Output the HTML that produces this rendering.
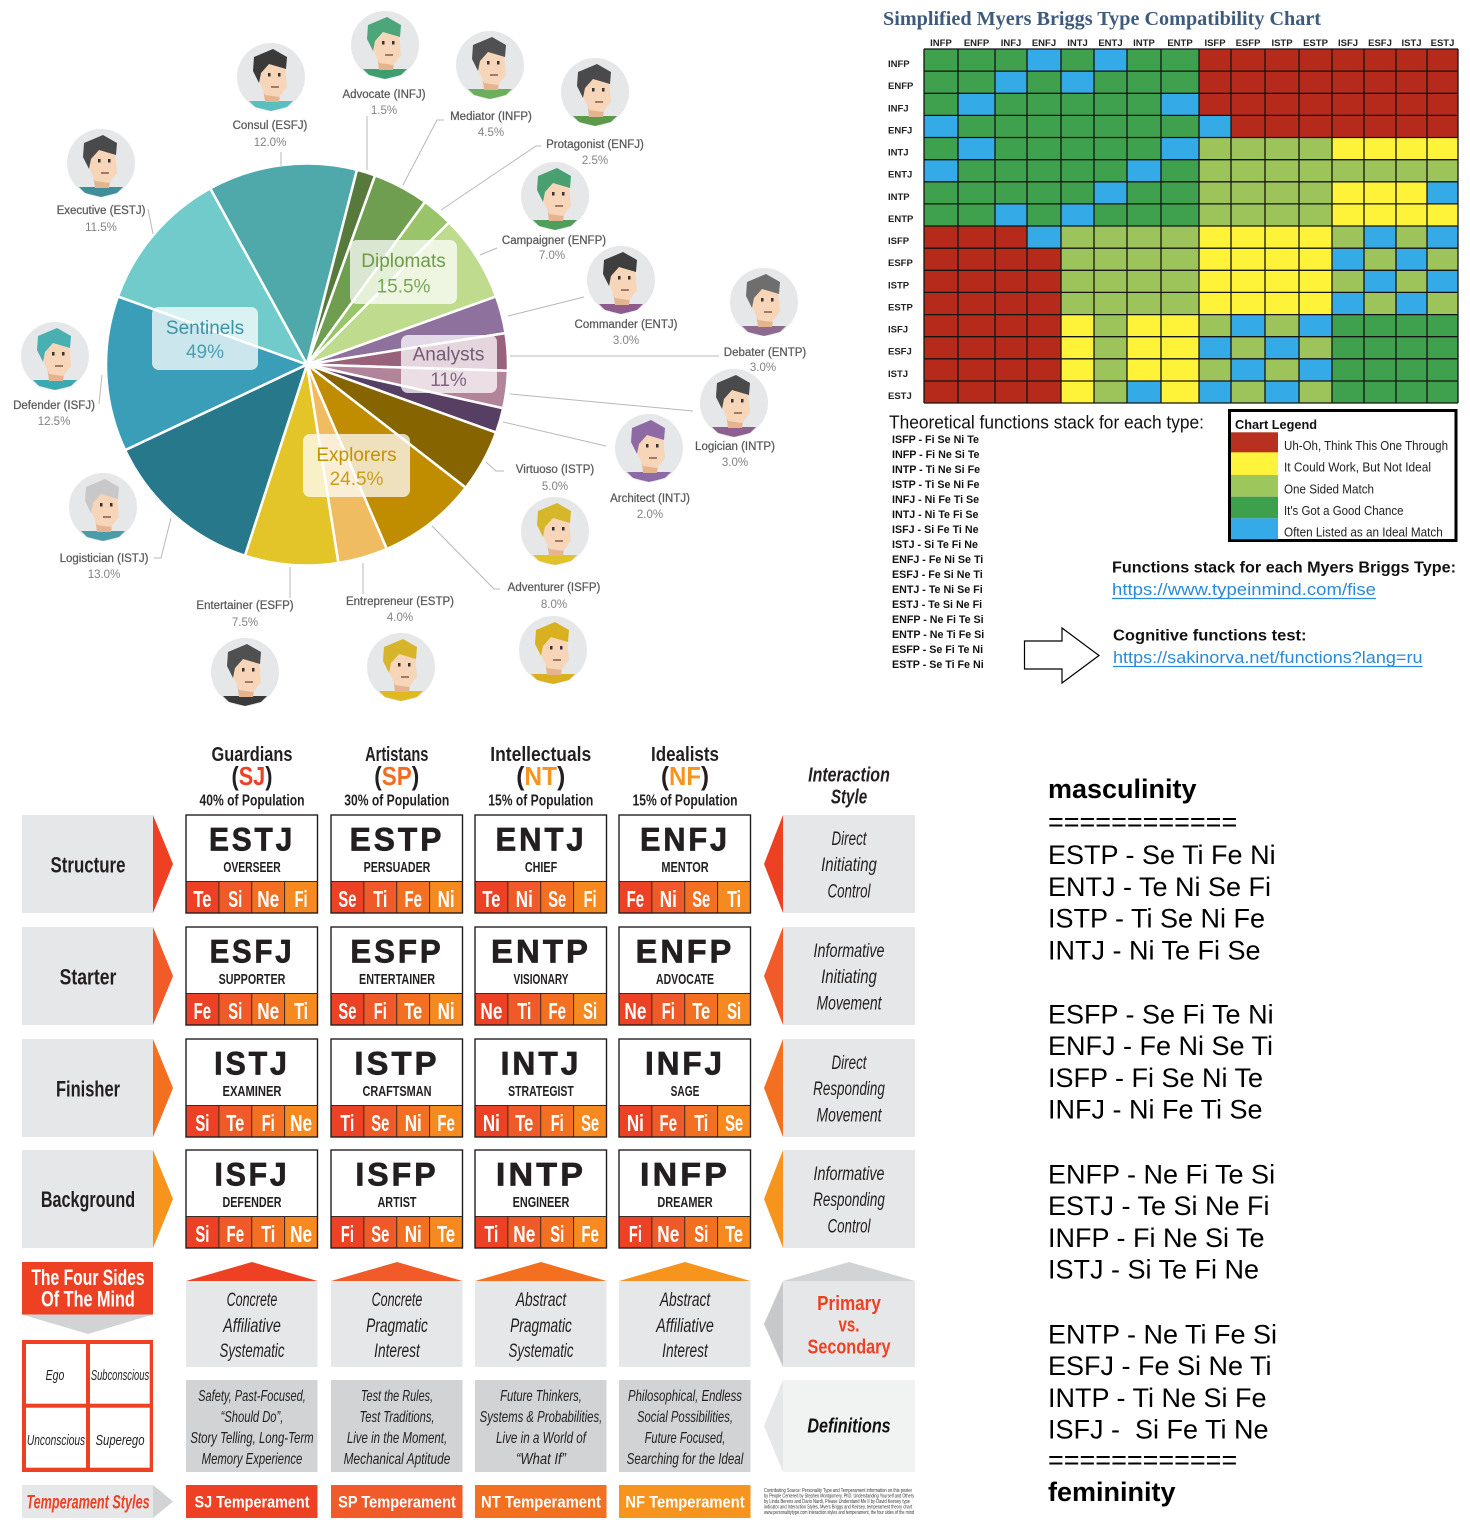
<!DOCTYPE html>
<html><head><meta charset="utf-8"><title>MBTI charts</title>
<style>
html,body{margin:0;padding:0;background:#fff;}
svg{display:block;}
.g{fill:#3FA04D}.b{fill:#34AAE6}.r{fill:#B52A1A}.y{fill:#FFF33A}.l{fill:#9DC45A}
.pl{font-size:11.5px;fill:#58595B;stroke:#58595B;stroke-width:0.25px;text-anchor:middle}
.pp{font-size:11.5px;fill:#808285;text-anchor:middle}
.ll{stroke:#B8B8B8;stroke-width:1;fill:none}
.hd{font-size:9.5px;font-weight:bold;fill:#222;text-anchor:middle}
.rl{font-size:9.5px;font-weight:bold;fill:#222}
.fs{font-size:10.7px;font-weight:bold;fill:#111}
.lg{font-size:13px;fill:#222}
.cd{font-weight:bold;fill:#231F20;text-anchor:middle}
.lt{font-size:32px;font-weight:bold;fill:#231F20;stroke:#231F20;stroke-width:0.7px;text-anchor:middle;letter-spacing:3px}
.nm{font-size:15px;font-weight:bold;fill:#231F20;text-anchor:middle}
.fn{font-size:23px;font-weight:bold;fill:#fff;text-anchor:middle}
.it{font-style:italic;fill:#231F20;text-anchor:middle}
.i19{font-size:19px}
.i16{font-size:16px}
.tb{font-size:17px;font-weight:bold;fill:#fff;text-anchor:middle}
.big{font-size:27px;fill:#000;white-space:pre}
.hair{fill:var(--h,#4B4B4D)}
</style></head>
<body>
<svg width="1470" height="1537" viewBox="0 0 1470 1537" xmlns="http://www.w3.org/2000/svg" font-family="'Liberation Sans', Arial, sans-serif">
<defs>
<symbol id="av" viewBox="-35 -35 70 70">
<circle r="34" fill="#E6E7E9"/>
<path d="M-22 24 L22 24 L16 30 L0 34 L-16 30 Z" fill="currentColor"/>
<path d="M-8 10 L10 10 L8 25 L-6 25Z" fill="#E5B48F"/>
<path d="M-12 -14 L14 -12 L16 10 L8 20 L-6 18 L-12 4Z" fill="#F6D5B8"/>
<path class="hair" d="M-17 -20 L2 -28 L16 -20 L15 -8 L-2 -13 L-10 -4 L-12 6 L-18 -6Z"/>
<rect x="-3" y="-4" width="2.5" height="3.5" fill="#333"/>
<rect x="7" y="-4" width="2.5" height="3.5" fill="#333"/>
<path d="M0 10 L8 10" stroke="#8a5a4a" stroke-width="1.5"/>
</symbol>
<g id="card">
<rect x="0" y="0" width="131.5" height="98" fill="#fff"/>
<rect x="0" y="66.5" width="33" height="31.5" fill="#EC4124"/>
<rect x="32.9" y="66.5" width="33" height="31.5" fill="#F05A28"/>
<rect x="65.75" y="66.5" width="33" height="31.5" fill="#F37022"/>
<rect x="98.6" y="66.5" width="32.9" height="31.5" fill="#F6891F"/>
<path d="M0 66.5H131.5M32.9 66.5V98M65.75 66.5V98M98.6 66.5V98" stroke="#3B2A22" stroke-width="1"/>
<rect x="0" y="0" width="131.5" height="98" fill="none" stroke="#231F20" stroke-width="1.4"/>
</g>
</defs>

<!-- ================= PIE ================= -->
<g stroke="#fff" stroke-width="2.5" stroke-linejoin="round">
<path d="M307 364.5 L210.2 188.4 A201 201 0 0 1 357.0 169.8 Z" fill="#4FA9AB"/>
<path d="M307 364.5 L357.0 169.8 A201 201 0 0 1 375.1 175.4 Z" fill="#577A3C"/>
<path d="M307 364.5 L375.1 175.4 A201 201 0 0 1 425.1 201.9 Z" fill="#6F9E50"/>
<path d="M307 364.5 L425.1 201.9 A201 201 0 0 1 449.1 222.4 Z" fill="#99C46A"/>
<path d="M307 364.5 L449.1 222.4 A201 201 0 0 1 496.1 296.4 Z" fill="#BFDC8E"/>
<path d="M307 364.5 L496.1 296.4 A201 201 0 0 1 505.5 333.1 Z" fill="#8E719D"/>
<path d="M307 364.5 L505.5 333.1 A201 201 0 0 1 507.9 370.8 Z" fill="#98627A"/>
<path d="M307 364.5 L507.9 370.8 A201 201 0 0 1 503.2 408.3 Z" fill="#B2849A"/>
<path d="M307 364.5 L503.2 408.3 A201 201 0 0 1 496.1 432.6 Z" fill="#573E63"/>
<path d="M307 364.5 L496.1 432.6 A201 201 0 0 1 465.8 487.7 Z" fill="#866400"/>
<path d="M307 364.5 L465.8 487.7 A201 201 0 0 1 386.8 549.0 Z" fill="#C08D00"/>
<path d="M307 364.5 L386.8 549.0 A201 201 0 0 1 338.4 563.0 Z" fill="#F0BC62"/>
<path d="M307 364.5 L338.4 563.0 A201 201 0 0 1 244.9 555.7 Z" fill="#E3C52A"/>
<path d="M307 364.5 L244.9 555.7 A201 201 0 0 1 125.1 450.1 Z" fill="#27788B"/>
<path d="M307 364.5 L125.1 450.1 A201 201 0 0 1 117.9 296.4 Z" fill="#3A9EB8"/>
<path d="M307 364.5 L117.9 296.4 A201 201 0 0 1 210.2 188.4 Z" fill="#72CBCB"/>
</g>
<g fill="#fff" fill-opacity="0.74">
<rect x="152" y="307" width="106" height="63" rx="7"/>
<rect x="350" y="240" width="107" height="64" rx="7"/>
<rect x="401" y="335" width="96" height="58" rx="7"/>
<rect x="303" y="434" width="107" height="63" rx="7"/>
</g>
<g font-size="19" text-anchor="middle">
<text x="205" y="334" fill="#3B93A5">Sentinels</text>
<text x="205" y="358" fill="#4C9EB0">49%</text>
<text x="403.5" y="267" fill="#6D9C45">Diplomats</text>
<text x="403.5" y="292.5" fill="#78A752">15.5%</text>
<text x="448.5" y="360.5" fill="#755A78">Analysts</text>
<text x="448.5" y="386" fill="#7F6580">11%</text>
<text x="356.5" y="461" fill="#C49300">Explorers</text>
<text x="356.5" y="485" fill="#C99E1A">24.5%</text>
</g>

<!-- leader lines -->
<g class="ll">
<path d="M281 152 V166"/>
<path d="M367 116 V170"/>
<path d="M444 120 H437 L403 185"/>
<path d="M541 146 H536 L441 210"/>
<path d="M497 248 L480 255"/>
<path d="M584 297 L508 316"/>
<path d="M719 356 H510"/>
<path d="M693 411 L510 394"/>
<path d="M606 446 L503 422"/>
<path d="M504 471 H496 L486 462"/>
<path d="M500 589 H494 L432 526"/>
<path d="M363 594 V563"/>
<path d="M290 598 V567"/>
<path d="M154 558 H161 L171 518"/>
<path d="M99 404 L102 375"/>
<path d="M148 209 L153 234"/>
</g>

<!-- avatars -->
<use href="#av" x="236" y="42" width="70" height="70" style="color:#5BBFC0;--h:#3A3A3A"/>
<use href="#av" x="350" y="10" width="70" height="70" style="color:#3E9E6E;--h:#4CA67A"/>
<use href="#av" x="455" y="30" width="70" height="70" style="color:#6CAE5C;--h:#505052"/>
<use href="#av" x="560" y="57" width="70" height="70" style="color:#5A9A4A;--h:#4A4A4C"/>
<use href="#av" x="520" y="161" width="70" height="70" style="color:#4E9E5C;--h:#48A070"/>
<use href="#av" x="586" y="245" width="70" height="70" style="color:#8E5C8C;--h:#3E3E3E"/>
<use href="#av" x="729" y="267" width="70" height="70" style="color:#8E6A8E;--h:#6E6E6E"/>
<use href="#av" x="699" y="368" width="70" height="70" style="color:#8E6090;--h:#4A4A4A"/>
<use href="#av" x="614" y="413" width="70" height="70" style="color:#8B6AA5;--h:#8E6AA5"/>
<use href="#av" x="520" y="496" width="70" height="70" style="color:#E2C22A;--h:#D7B72A"/>
<use href="#av" x="518" y="615" width="70" height="70" style="color:#D8B020;--h:#D8B020"/>
<use href="#av" x="210" y="637" width="70" height="70" style="color:#3A3A3A;--h:#505050"/>
<use href="#av" x="366" y="632" width="70" height="70" style="color:#E0B820;--h:#D6B52A"/>
<use href="#av" x="66" y="128" width="70" height="70" style="color:#3E8F9A;--h:#4A4A4A"/>
<use href="#av" x="20" y="321" width="70" height="70" style="color:#3BA9B0;--h:#48B0B0"/>
<use href="#av" x="68" y="472" width="70" height="70" style="color:#4A9DA8;--h:#C8C8C8"/>

<!-- pie labels -->
<text class="pl" x="270" y="129">Consul (ESFJ)</text><text class="pp" x="270" y="146">12.0%</text>
<text class="pl" x="384" y="98">Advocate (INFJ)</text><text class="pp" x="384" y="114">1.5%</text>
<text class="pl" x="491" y="120">Mediator (INFP)</text><text class="pp" x="491" y="136">4.5%</text>
<text class="pl" x="595" y="148">Protagonist (ENFJ)</text><text class="pp" x="595" y="164">2.5%</text>
<text class="pl" x="554" y="244">Campaigner (ENFP)</text><text class="pp" x="552" y="259">7.0%</text>
<text class="pl" x="626" y="328">Commander (ENTJ)</text><text class="pp" x="626" y="344">3.0%</text>
<text class="pl" x="765" y="356">Debater (ENTP)</text><text class="pp" x="763" y="371">3.0%</text>
<text class="pl" x="735" y="450">Logician (INTP)</text><text class="pp" x="735" y="466">3.0%</text>
<text class="pl" x="650" y="502">Architect (INTJ)</text><text class="pp" x="650" y="518">2.0%</text>
<text class="pl" x="555" y="473">Virtuoso (ISTP)</text><text class="pp" x="555" y="490">5.0%</text>
<text class="pl" x="554" y="591">Adventurer (ISFP)</text><text class="pp" x="554" y="608">8.0%</text>
<text class="pl" x="400" y="605">Entrepreneur (ESTP)</text><text class="pp" x="400" y="621">4.0%</text>
<text class="pl" x="245" y="609">Entertainer (ESFP)</text><text class="pp" x="245" y="626">7.5%</text>
<text class="pl" x="104" y="562">Logistician (ISTJ)</text><text class="pp" x="104" y="578">13.0%</text>
<text class="pl" x="54" y="409">Defender (ISFJ)</text><text class="pp" x="54" y="425">12.5%</text>
<text class="pl" x="101" y="214">Executive (ESTJ)</text><text class="pp" x="101" y="231">11.5%</text>

<!-- ================= COMPATIBILITY GRID ================= -->
<text x="883" y="25" font-family="'Liberation Serif', serif" font-weight="bold" font-size="20" fill="#3F5B7C" textLength="438" lengthAdjust="spacingAndGlyphs">Simplified Myers Briggs Type Compatibility Chart</text>
<g class="hd">
<text x="941" y="46">INFP</text><text x="976.5" y="46">ENFP</text><text x="1011" y="46">INFJ</text><text x="1044" y="46">ENFJ</text>
<text x="1077.5" y="46">INTJ</text><text x="1110.5" y="46">ENTJ</text><text x="1144" y="46">INTP</text><text x="1180" y="46">ENTP</text>
<text x="1215" y="46">ISFP</text><text x="1248" y="46">ESFP</text><text x="1282" y="46">ISTP</text><text x="1315.5" y="46">ESTP</text>
<text x="1348" y="46">ISFJ</text><text x="1380" y="46">ESFJ</text><text x="1411.5" y="46">ISTJ</text><text x="1442.5" y="46">ESTJ</text>
</g>
<g class="rl">
<text x="888" y="67">INFP</text><text x="888" y="89.1">ENFP</text><text x="888" y="111.3">INFJ</text><text x="888" y="133.4">ENFJ</text>
<text x="888" y="155.5">INTJ</text><text x="888" y="177.7">ENTJ</text><text x="888" y="199.8">INTP</text><text x="888" y="221.9">ENTP</text>
<text x="888" y="244">ISFP</text><text x="888" y="266.2">ESFP</text><text x="888" y="288.3">ISTP</text><text x="888" y="310.4">ESTP</text>
<text x="888" y="332.6">ISFJ</text><text x="888" y="354.7">ESFJ</text><text x="888" y="376.8">ISTJ</text><text x="888" y="399">ESTJ</text>
</g>
<g>
<g transform="translate(0,49)"><rect class="g" x="924" width="103" height="22.3"/><rect class="b" x="1027" width="34" height="22.3"/><rect class="g" x="1061" width="33" height="22.3"/><rect class="b" x="1094" width="33" height="22.3"/><rect class="g" x="1127" width="72" height="22.3"/><rect class="r" x="1199" width="259" height="22.3"/></g>
<g transform="translate(0,71.1)"><rect class="g" x="924" width="71" height="22.3"/><rect class="b" x="995" width="32" height="22.3"/><rect class="g" x="1027" width="34" height="22.3"/><rect class="b" x="1061" width="33" height="22.3"/><rect class="g" x="1094" width="105" height="22.3"/><rect class="r" x="1199" width="259" height="22.3"/></g>
<g transform="translate(0,93.3)"><rect class="g" x="924" width="34" height="22.3"/><rect class="b" x="958" width="37" height="22.3"/><rect class="g" x="995" width="166" height="22.3"/><rect class="b" x="1161" width="38" height="22.3"/><rect class="r" x="1199" width="259" height="22.3"/></g>
<g transform="translate(0,115.4)"><rect class="b" x="924" width="34" height="22.3"/><rect class="g" x="958" width="241" height="22.3"/><rect class="b" x="1199" width="32" height="22.3"/><rect class="r" x="1231" width="227" height="22.3"/></g>
<g transform="translate(0,137.5)"><rect class="g" x="924" width="34" height="22.3"/><rect class="b" x="958" width="37" height="22.3"/><rect class="g" x="995" width="166" height="22.3"/><rect class="b" x="1161" width="38" height="22.3"/><rect class="l" x="1199" width="133" height="22.3"/><rect class="y" x="1332" width="126" height="22.3"/></g>
<g transform="translate(0,159.7)"><rect class="b" x="924" width="34" height="22.3"/><rect class="g" x="958" width="169" height="22.3"/><rect class="b" x="1127" width="34" height="22.3"/><rect class="g" x="1161" width="38" height="22.3"/><rect class="l" x="1199" width="259" height="22.3"/></g>
<g transform="translate(0,181.8)"><rect class="g" x="924" width="170" height="22.3"/><rect class="b" x="1094" width="33" height="22.3"/><rect class="g" x="1127" width="72" height="22.3"/><rect class="l" x="1199" width="133" height="22.3"/><rect class="y" x="1332" width="95" height="22.3"/><rect class="b" x="1427" width="31" height="22.3"/></g>
<g transform="translate(0,203.9)"><rect class="g" x="924" width="71" height="22.3"/><rect class="b" x="995" width="32" height="22.3"/><rect class="g" x="1027" width="34" height="22.3"/><rect class="b" x="1061" width="33" height="22.3"/><rect class="g" x="1094" width="105" height="22.3"/><rect class="l" x="1199" width="133" height="22.3"/><rect class="y" x="1332" width="126" height="22.3"/></g>
<g transform="translate(0,226)"><rect class="r" x="924" width="103" height="22.3"/><rect class="b" x="1027" width="34" height="22.3"/><rect class="l" x="1061" width="138" height="22.3"/><rect class="y" x="1199" width="133" height="22.3"/><rect class="l" x="1332" width="32" height="22.3"/><rect class="b" x="1364" width="32" height="22.3"/><rect class="l" x="1396" width="31" height="22.3"/><rect class="b" x="1427" width="31" height="22.3"/></g>
<g transform="translate(0,248.2)"><rect class="r" x="924" width="137" height="22.3"/><rect class="l" x="1061" width="138" height="22.3"/><rect class="y" x="1199" width="133" height="22.3"/><rect class="b" x="1332" width="32" height="22.3"/><rect class="l" x="1364" width="32" height="22.3"/><rect class="b" x="1396" width="31" height="22.3"/><rect class="l" x="1427" width="31" height="22.3"/></g>
<g transform="translate(0,270.3)"><rect class="r" x="924" width="137" height="22.3"/><rect class="l" x="1061" width="138" height="22.3"/><rect class="y" x="1199" width="133" height="22.3"/><rect class="l" x="1332" width="32" height="22.3"/><rect class="b" x="1364" width="32" height="22.3"/><rect class="l" x="1396" width="31" height="22.3"/><rect class="b" x="1427" width="31" height="22.3"/></g>
<g transform="translate(0,292.4)"><rect class="r" x="924" width="137" height="22.3"/><rect class="l" x="1061" width="138" height="22.3"/><rect class="y" x="1199" width="133" height="22.3"/><rect class="b" x="1332" width="32" height="22.3"/><rect class="l" x="1364" width="32" height="22.3"/><rect class="b" x="1396" width="31" height="22.3"/><rect class="l" x="1427" width="31" height="22.3"/></g>
<g transform="translate(0,314.6)"><rect class="r" x="924" width="137" height="22.3"/><rect class="y" x="1061" width="33" height="22.3"/><rect class="l" x="1094" width="33" height="22.3"/><rect class="y" x="1127" width="72" height="22.3"/><rect class="l" x="1199" width="32" height="22.3"/><rect class="b" x="1231" width="34" height="22.3"/><rect class="l" x="1265" width="34" height="22.3"/><rect class="b" x="1299" width="33" height="22.3"/><rect class="g" x="1332" width="126" height="22.3"/></g>
<g transform="translate(0,336.7)"><rect class="r" x="924" width="137" height="22.3"/><rect class="y" x="1061" width="33" height="22.3"/><rect class="l" x="1094" width="33" height="22.3"/><rect class="y" x="1127" width="72" height="22.3"/><rect class="b" x="1199" width="32" height="22.3"/><rect class="l" x="1231" width="34" height="22.3"/><rect class="b" x="1265" width="34" height="22.3"/><rect class="l" x="1299" width="33" height="22.3"/><rect class="g" x="1332" width="126" height="22.3"/></g>
<g transform="translate(0,358.8)"><rect class="r" x="924" width="137" height="22.3"/><rect class="y" x="1061" width="33" height="22.3"/><rect class="l" x="1094" width="33" height="22.3"/><rect class="y" x="1127" width="72" height="22.3"/><rect class="l" x="1199" width="32" height="22.3"/><rect class="b" x="1231" width="34" height="22.3"/><rect class="l" x="1265" width="34" height="22.3"/><rect class="b" x="1299" width="33" height="22.3"/><rect class="g" x="1332" width="126" height="22.3"/></g>
<g transform="translate(0,381)"><rect class="r" x="924" width="137" height="22"/><rect class="y" x="1061" width="33" height="22"/><rect class="l" x="1094" width="33" height="22"/><rect class="b" x="1127" width="34" height="22"/><rect class="y" x="1161" width="38" height="22"/><rect class="b" x="1199" width="32" height="22"/><rect class="l" x="1231" width="34" height="22"/><rect class="b" x="1265" width="34" height="22"/><rect class="l" x="1299" width="33" height="22"/><rect class="g" x="1332" width="126" height="22"/></g>
</g>
<g stroke="#141414" stroke-width="1.3" fill="none">
<path d="M924 49V403M958 49V403M995 49V403M1027 49V403M1061 49V403M1094 49V403M1127 49V403M1161 49V403M1199 49V403M1231 49V403M1265 49V403M1299 49V403M1332 49V403M1364 49V403M1396 49V403M1427 49V403M1458 49V403"/>
<path d="M924 49H1458M924 71.1H1458M924 93.3H1458M924 115.4H1458M924 137.5H1458M924 159.7H1458M924 181.8H1458M924 203.9H1458M924 226H1458M924 248.2H1458M924 270.3H1458M924 292.4H1458M924 314.6H1458M924 336.7H1458M924 358.8H1458M924 381H1458M924 403H1458"/>
</g>

<!-- legend -->
<rect x="1229.5" y="410.5" width="226.5" height="130" fill="#fff" stroke="#000" stroke-width="3"/>
<text x="1235" y="429" font-size="12.5" font-weight="bold" fill="#111" textLength="82" lengthAdjust="spacingAndGlyphs">Chart Legend</text>
<rect x="1231" y="432.3" width="47" height="20.3" fill="#B8301F"/>
<rect x="1231" y="452.3" width="47" height="22.7" fill="#FFF43B"/>
<rect x="1231" y="475" width="47" height="21.7" fill="#9DC65C"/>
<rect x="1231" y="496.7" width="47" height="21.6" fill="#3EA04C"/>
<rect x="1231" y="518.3" width="47" height="21" fill="#35AAE8"/>
<text class="lg" x="1284" y="450" textLength="164" lengthAdjust="spacingAndGlyphs">Uh-Oh, Think This One Through</text>
<text class="lg" x="1284" y="471.5" textLength="147" lengthAdjust="spacingAndGlyphs">It Could Work, But Not Ideal</text>
<text class="lg" x="1284" y="493.3" textLength="90" lengthAdjust="spacingAndGlyphs">One Sided Match</text>
<text class="lg" x="1284" y="515" textLength="119.5" lengthAdjust="spacingAndGlyphs">It's Got a Good Chance</text>
<text class="lg" x="1284" y="536.7" textLength="158.7" lengthAdjust="spacingAndGlyphs">Often Listed as an Ideal Match</text>

<text x="889" y="428.3" font-size="18" fill="#111" textLength="315" lengthAdjust="spacingAndGlyphs">Theoretical functions stack for each type:</text>
<g class="fs">
<text x="892" y="443">ISFP - Fi Se Ni Te</text>
<text x="892" y="458">INFP - Fi Ne Si Te</text>
<text x="892" y="473">INTP - Ti Ne Si Fe</text>
<text x="892" y="488">ISTP - Ti Se Ni Fe</text>
<text x="892" y="503">INFJ - Ni Fe Ti Se</text>
<text x="892" y="518">INTJ - Ni Te Fi Se</text>
<text x="892" y="533">ISFJ - Si Fe Ti Ne</text>
<text x="892" y="548">ISTJ - Si Te Fi Ne</text>
<text x="892" y="563">ENFJ - Fe Ni Se Ti</text>
<text x="892" y="578">ESFJ - Fe Si Ne Ti</text>
<text x="892" y="593">ENTJ - Te Ni Se Fi</text>
<text x="892" y="608">ESTJ - Te Si Ne Fi</text>
<text x="892" y="623">ENFP - Ne Fi Te Si</text>
<text x="892" y="638">ENTP - Ne Ti Fe Si</text>
<text x="892" y="653">ESFP - Se Fi Te Ni</text>
<text x="892" y="668">ESTP - Se Ti Fe Ni</text>
</g>
<polygon points="1024.5,641 1062,641 1062,628 1099,655.5 1062,683 1062,669 1024.5,669" fill="#fff" stroke="#000" stroke-width="1.2"/>
<text x="1112" y="572.5" font-size="15.5" font-weight="bold" fill="#111" textLength="344" lengthAdjust="spacingAndGlyphs">Functions stack for each Myers Briggs Type:</text>
<text x="1112" y="595" font-size="17" fill="#2A8AD8" textLength="264" lengthAdjust="spacingAndGlyphs">https://www.typeinmind.com/fise</text>
<path d="M1112 598.5H1376" stroke="#2A8AD8" stroke-width="1.2"/>
<text x="1113" y="640.5" font-size="15.5" font-weight="bold" fill="#111" textLength="193.5" lengthAdjust="spacingAndGlyphs">Cognitive functions test:</text>
<text x="1113" y="663" font-size="17" fill="#2A8AD8" textLength="309.5" lengthAdjust="spacingAndGlyphs">https://sakinorva.net/functions?lang=ru</text>
<path d="M1113 666.5H1422.5" stroke="#2A8AD8" stroke-width="1.2"/>

<!-- ================= TEMPERAMENT TABLE ================= -->
<text class="cd" x="252" y="761" font-size="20" textLength="81" lengthAdjust="spacingAndGlyphs">Guardians</text>
<text class="cd" x="252" y="785" font-size="26" textLength="41" lengthAdjust="spacingAndGlyphs">(<tspan fill="#EE4123">SJ</tspan>)</text>
<text class="cd" x="252" y="805.7" font-size="16" textLength="105" lengthAdjust="spacingAndGlyphs">40% of Population</text>
<text class="cd" x="396.75" y="761" font-size="20" textLength="63.3" lengthAdjust="spacingAndGlyphs">Artistans</text>
<text class="cd" x="396.75" y="785" font-size="26" textLength="45" lengthAdjust="spacingAndGlyphs">(<tspan fill="#F36C21">SP</tspan>)</text>
<text class="cd" x="396.75" y="805.7" font-size="16" textLength="105" lengthAdjust="spacingAndGlyphs">30% of Population</text>
<text class="cd" x="540.75" y="761" font-size="20" textLength="101" lengthAdjust="spacingAndGlyphs">Intellectuals</text>
<text class="cd" x="540.75" y="785" font-size="26" textLength="49" lengthAdjust="spacingAndGlyphs">(<tspan fill="#F7941D">NT</tspan>)</text>
<text class="cd" x="540.75" y="805.7" font-size="16" textLength="105" lengthAdjust="spacingAndGlyphs">15% of Population</text>
<text class="cd" x="685" y="761" font-size="20" textLength="68" lengthAdjust="spacingAndGlyphs">Idealists</text>
<text class="cd" x="685" y="785" font-size="26" textLength="48" lengthAdjust="spacingAndGlyphs">(<tspan fill="#F7941D">NF</tspan>)</text>
<text class="cd" x="685" y="805.7" font-size="16" textLength="105" lengthAdjust="spacingAndGlyphs">15% of Population</text>
<text class="cd" x="849" y="781.7" font-size="20" font-style="italic" textLength="81.7" lengthAdjust="spacingAndGlyphs">Interaction</text>
<text class="cd" x="849" y="803.3" font-size="20" font-style="italic" textLength="36.3" lengthAdjust="spacingAndGlyphs">Style</text>

<g fill="#E6E7E8">
<rect x="22" y="815" width="131" height="98"/>
<rect x="22" y="927" width="131" height="98"/>
<rect x="22" y="1039" width="131" height="98"/>
<rect x="22" y="1150" width="131" height="98"/>
</g>
<polygon points="153,815 173,864 153,913" fill="#EE4123"/>
<polygon points="153,927 173,976 153,1025" fill="#F15A29"/>
<polygon points="153,1039 173,1088 153,1137" fill="#F37021"/>
<polygon points="153,1150 173,1199 153,1248" fill="#F7941D"/>
<text class="cd" x="88" y="872.3" font-size="22" textLength="75" lengthAdjust="spacingAndGlyphs">Structure</text>
<text class="cd" x="88" y="984.3" font-size="22" textLength="56.7" lengthAdjust="spacingAndGlyphs">Starter</text>
<text class="cd" x="88" y="1096.3" font-size="22" textLength="64" lengthAdjust="spacingAndGlyphs">Finisher</text>
<text class="cd" x="88" y="1207" font-size="22" textLength="94.3" lengthAdjust="spacingAndGlyphs">Background</text>

<use href="#card" x="186" y="815"/><use href="#card" x="331" y="815"/><use href="#card" x="475" y="815"/><use href="#card" x="619" y="815"/>
<use href="#card" x="186" y="927"/><use href="#card" x="331" y="927"/><use href="#card" x="475" y="927"/><use href="#card" x="619" y="927"/>
<use href="#card" x="186" y="1039"/><use href="#card" x="331" y="1039"/><use href="#card" x="475" y="1039"/><use href="#card" x="619" y="1039"/>
<use href="#card" x="186" y="1150"/><use href="#card" x="331" y="1150"/><use href="#card" x="475" y="1150"/><use href="#card" x="619" y="1150"/>

<text class="lt" x="252" y="850.5" textLength="86" lengthAdjust="spacingAndGlyphs">ESTJ</text>
<text class="lt" x="397" y="850.5" textLength="94.7" lengthAdjust="spacingAndGlyphs">ESTP</text>
<text class="lt" x="541" y="850.5" textLength="91" lengthAdjust="spacingAndGlyphs">ENTJ</text>
<text class="lt" x="685" y="850.5" textLength="90" lengthAdjust="spacingAndGlyphs">ENFJ</text>
<text class="lt" x="252" y="962.5" textLength="84.7" lengthAdjust="spacingAndGlyphs">ESFJ</text>
<text class="lt" x="397" y="962.5" textLength="93.3" lengthAdjust="spacingAndGlyphs">ESFP</text>
<text class="lt" x="541" y="962.5" textLength="100" lengthAdjust="spacingAndGlyphs">ENTP</text>
<text class="lt" x="685" y="962.5" textLength="98.7" lengthAdjust="spacingAndGlyphs">ENFP</text>
<text class="lt" x="252" y="1074.5" textLength="75.7" lengthAdjust="spacingAndGlyphs">ISTJ</text>
<text class="lt" x="397" y="1074.5" textLength="85.3" lengthAdjust="spacingAndGlyphs">ISTP</text>
<text class="lt" x="541" y="1074.5" textLength="80.7" lengthAdjust="spacingAndGlyphs">INTJ</text>
<text class="lt" x="685" y="1074.5" textLength="80" lengthAdjust="spacingAndGlyphs">INFJ</text>
<text class="lt" x="252" y="1185.5" textLength="75" lengthAdjust="spacingAndGlyphs">ISFJ</text>
<text class="lt" x="397" y="1185.5" textLength="83.3" lengthAdjust="spacingAndGlyphs">ISFP</text>
<text class="lt" x="541" y="1185.5" textLength="90.3" lengthAdjust="spacingAndGlyphs">INTP</text>
<text class="lt" x="685" y="1185.5" textLength="90" lengthAdjust="spacingAndGlyphs">INFP</text>

<text class="nm" x="252" y="872" textLength="57.3" lengthAdjust="spacingAndGlyphs">OVERSEER</text>
<text class="nm" x="397" y="872" textLength="66.7" lengthAdjust="spacingAndGlyphs">PERSUADER</text>
<text class="nm" x="541" y="872" textLength="32.3" lengthAdjust="spacingAndGlyphs">CHIEF</text>
<text class="nm" x="685" y="872" textLength="47.3" lengthAdjust="spacingAndGlyphs">MENTOR</text>
<text class="nm" x="252" y="984" textLength="66.7" lengthAdjust="spacingAndGlyphs">SUPPORTER</text>
<text class="nm" x="397" y="984" textLength="76" lengthAdjust="spacingAndGlyphs">ENTERTAINER</text>
<text class="nm" x="541" y="984" textLength="55" lengthAdjust="spacingAndGlyphs">VISIONARY</text>
<text class="nm" x="685" y="984" textLength="58" lengthAdjust="spacingAndGlyphs">ADVOCATE</text>
<text class="nm" x="252" y="1096" textLength="59" lengthAdjust="spacingAndGlyphs">EXAMINER</text>
<text class="nm" x="397" y="1096" textLength="69" lengthAdjust="spacingAndGlyphs">CRAFTSMAN</text>
<text class="nm" x="541" y="1096" textLength="65.7" lengthAdjust="spacingAndGlyphs">STRATEGIST</text>
<text class="nm" x="685" y="1096" textLength="28.7" lengthAdjust="spacingAndGlyphs">SAGE</text>
<text class="nm" x="252" y="1207" textLength="59" lengthAdjust="spacingAndGlyphs">DEFENDER</text>
<text class="nm" x="397" y="1207" textLength="39" lengthAdjust="spacingAndGlyphs">ARTIST</text>
<text class="nm" x="541" y="1207" textLength="56.7" lengthAdjust="spacingAndGlyphs">ENGINEER</text>
<text class="nm" x="685" y="1207" textLength="55.3" lengthAdjust="spacingAndGlyphs">DREAMER</text>

<g class="fn">
<text x="202.4" y="907" textLength="18" lengthAdjust="spacingAndGlyphs">Te</text><text x="235.3" y="907" textLength="14" lengthAdjust="spacingAndGlyphs">Si</text><text x="268.2" y="907" textLength="22" lengthAdjust="spacingAndGlyphs">Ne</text><text x="301.1" y="907" textLength="13" lengthAdjust="spacingAndGlyphs">Fi</text>
<text x="347.4" y="907" textLength="18" lengthAdjust="spacingAndGlyphs">Se</text><text x="380.3" y="907" textLength="14" lengthAdjust="spacingAndGlyphs">Ti</text><text x="413.2" y="907" textLength="17.5" lengthAdjust="spacingAndGlyphs">Fe</text><text x="446.1" y="907" textLength="17" lengthAdjust="spacingAndGlyphs">Ni</text>
<text x="491.4" y="907" textLength="18" lengthAdjust="spacingAndGlyphs">Te</text><text x="524.3" y="907" textLength="17" lengthAdjust="spacingAndGlyphs">Ni</text><text x="557.2" y="907" textLength="18" lengthAdjust="spacingAndGlyphs">Se</text><text x="590.1" y="907" textLength="13" lengthAdjust="spacingAndGlyphs">Fi</text>
<text x="635.4" y="907" textLength="17.5" lengthAdjust="spacingAndGlyphs">Fe</text><text x="668.3" y="907" textLength="17" lengthAdjust="spacingAndGlyphs">Ni</text><text x="701.2" y="907" textLength="18" lengthAdjust="spacingAndGlyphs">Se</text><text x="734.1" y="907" textLength="14" lengthAdjust="spacingAndGlyphs">Ti</text>
<text x="202.4" y="1019" textLength="17.5" lengthAdjust="spacingAndGlyphs">Fe</text><text x="235.3" y="1019" textLength="14" lengthAdjust="spacingAndGlyphs">Si</text><text x="268.2" y="1019" textLength="22" lengthAdjust="spacingAndGlyphs">Ne</text><text x="301.1" y="1019" textLength="14" lengthAdjust="spacingAndGlyphs">Ti</text>
<text x="347.4" y="1019" textLength="18" lengthAdjust="spacingAndGlyphs">Se</text><text x="380.3" y="1019" textLength="13" lengthAdjust="spacingAndGlyphs">Fi</text><text x="413.2" y="1019" textLength="18" lengthAdjust="spacingAndGlyphs">Te</text><text x="446.1" y="1019" textLength="17" lengthAdjust="spacingAndGlyphs">Ni</text>
<text x="491.4" y="1019" textLength="22" lengthAdjust="spacingAndGlyphs">Ne</text><text x="524.3" y="1019" textLength="14" lengthAdjust="spacingAndGlyphs">Ti</text><text x="557.2" y="1019" textLength="17.5" lengthAdjust="spacingAndGlyphs">Fe</text><text x="590.1" y="1019" textLength="14" lengthAdjust="spacingAndGlyphs">Si</text>
<text x="635.4" y="1019" textLength="22" lengthAdjust="spacingAndGlyphs">Ne</text><text x="668.3" y="1019" textLength="13" lengthAdjust="spacingAndGlyphs">Fi</text><text x="701.2" y="1019" textLength="18" lengthAdjust="spacingAndGlyphs">Te</text><text x="734.1" y="1019" textLength="14" lengthAdjust="spacingAndGlyphs">Si</text>
<text x="202.4" y="1131" textLength="14" lengthAdjust="spacingAndGlyphs">Si</text><text x="235.3" y="1131" textLength="18" lengthAdjust="spacingAndGlyphs">Te</text><text x="268.2" y="1131" textLength="13" lengthAdjust="spacingAndGlyphs">Fi</text><text x="301.1" y="1131" textLength="22" lengthAdjust="spacingAndGlyphs">Ne</text>
<text x="347.4" y="1131" textLength="14" lengthAdjust="spacingAndGlyphs">Ti</text><text x="380.3" y="1131" textLength="18" lengthAdjust="spacingAndGlyphs">Se</text><text x="413.2" y="1131" textLength="17" lengthAdjust="spacingAndGlyphs">Ni</text><text x="446.1" y="1131" textLength="17.5" lengthAdjust="spacingAndGlyphs">Fe</text>
<text x="491.4" y="1131" textLength="17" lengthAdjust="spacingAndGlyphs">Ni</text><text x="524.3" y="1131" textLength="18" lengthAdjust="spacingAndGlyphs">Te</text><text x="557.2" y="1131" textLength="13" lengthAdjust="spacingAndGlyphs">Fi</text><text x="590.1" y="1131" textLength="18" lengthAdjust="spacingAndGlyphs">Se</text>
<text x="635.4" y="1131" textLength="17" lengthAdjust="spacingAndGlyphs">Ni</text><text x="668.3" y="1131" textLength="17.5" lengthAdjust="spacingAndGlyphs">Fe</text><text x="701.2" y="1131" textLength="14" lengthAdjust="spacingAndGlyphs">Ti</text><text x="734.1" y="1131" textLength="18" lengthAdjust="spacingAndGlyphs">Se</text>
<text x="202.4" y="1242" textLength="14" lengthAdjust="spacingAndGlyphs">Si</text><text x="235.3" y="1242" textLength="17.5" lengthAdjust="spacingAndGlyphs">Fe</text><text x="268.2" y="1242" textLength="14" lengthAdjust="spacingAndGlyphs">Ti</text><text x="301.1" y="1242" textLength="22" lengthAdjust="spacingAndGlyphs">Ne</text>
<text x="347.4" y="1242" textLength="13" lengthAdjust="spacingAndGlyphs">Fi</text><text x="380.3" y="1242" textLength="18" lengthAdjust="spacingAndGlyphs">Se</text><text x="413.2" y="1242" textLength="17" lengthAdjust="spacingAndGlyphs">Ni</text><text x="446.1" y="1242" textLength="18" lengthAdjust="spacingAndGlyphs">Te</text>
<text x="491.4" y="1242" textLength="14" lengthAdjust="spacingAndGlyphs">Ti</text><text x="524.3" y="1242" textLength="22" lengthAdjust="spacingAndGlyphs">Ne</text><text x="557.2" y="1242" textLength="14" lengthAdjust="spacingAndGlyphs">Si</text><text x="590.1" y="1242" textLength="17.5" lengthAdjust="spacingAndGlyphs">Fe</text>
<text x="635.4" y="1242" textLength="13" lengthAdjust="spacingAndGlyphs">Fi</text><text x="668.3" y="1242" textLength="22" lengthAdjust="spacingAndGlyphs">Ne</text><text x="701.2" y="1242" textLength="14" lengthAdjust="spacingAndGlyphs">Si</text><text x="734.1" y="1242" textLength="18" lengthAdjust="spacingAndGlyphs">Te</text>
</g>

<g fill="#E6E7E8">
<rect x="783" y="815" width="132" height="98"/>
<rect x="783" y="927" width="132" height="98"/>
<rect x="783" y="1039" width="132" height="98"/>
<rect x="783" y="1150" width="132" height="98"/>
</g>
<polygon points="783,815 764,864 783,913" fill="#EE4123"/>
<polygon points="783,927 764,976 783,1025" fill="#F15A29"/>
<polygon points="783,1039 764,1088 783,1137" fill="#F37021"/>
<polygon points="783,1150 764,1199 783,1248" fill="#F7941D"/>
<g class="it i19">
<text x="849" y="845" textLength="35" lengthAdjust="spacingAndGlyphs">Direct</text>
<text x="849" y="871" textLength="55.7" lengthAdjust="spacingAndGlyphs">Initiating</text>
<text x="849" y="897.7" textLength="43" lengthAdjust="spacingAndGlyphs">Control</text>
<text x="849" y="957" textLength="71" lengthAdjust="spacingAndGlyphs">Informative</text>
<text x="849" y="983" textLength="55.7" lengthAdjust="spacingAndGlyphs">Initiating</text>
<text x="849" y="1009.7" textLength="65" lengthAdjust="spacingAndGlyphs">Movement</text>
<text x="849" y="1069" textLength="35" lengthAdjust="spacingAndGlyphs">Direct</text>
<text x="849" y="1095" textLength="71.7" lengthAdjust="spacingAndGlyphs">Responding</text>
<text x="849" y="1121.7" textLength="65" lengthAdjust="spacingAndGlyphs">Movement</text>
<text x="849" y="1180" textLength="71" lengthAdjust="spacingAndGlyphs">Informative</text>
<text x="849" y="1206" textLength="71.7" lengthAdjust="spacingAndGlyphs">Responding</text>
<text x="849" y="1232.7" textLength="43" lengthAdjust="spacingAndGlyphs">Control</text>
</g>

<polygon points="186,1281 252,1262 317.5,1281" fill="#EE4123"/>
<polygon points="331,1281 397,1262 462.5,1281" fill="#F15A29"/>
<polygon points="475,1281 541,1262 606.5,1281" fill="#F37021"/>
<polygon points="619,1281 685,1262 750.5,1281" fill="#F7941D"/>
<g fill="#E6E7E8">
<rect x="186" y="1281" width="131.5" height="86"/>
<rect x="331" y="1281" width="131.5" height="86"/>
<rect x="475" y="1281" width="131.5" height="86"/>
<rect x="619" y="1281" width="131.5" height="86"/>
</g>
<g class="it i19">
<text x="252" y="1306" textLength="50.7" lengthAdjust="spacingAndGlyphs">Concrete</text>
<text x="252" y="1332" textLength="57.7" lengthAdjust="spacingAndGlyphs">Affiliative</text>
<text x="252" y="1357" textLength="65" lengthAdjust="spacingAndGlyphs">Systematic</text>
<text x="397" y="1306" textLength="50.7" lengthAdjust="spacingAndGlyphs">Concrete</text>
<text x="397" y="1332" textLength="61.7" lengthAdjust="spacingAndGlyphs">Pragmatic</text>
<text x="397" y="1357" textLength="45.7" lengthAdjust="spacingAndGlyphs">Interest</text>
<text x="541" y="1306" textLength="50.3" lengthAdjust="spacingAndGlyphs">Abstract</text>
<text x="541" y="1332" textLength="61.7" lengthAdjust="spacingAndGlyphs">Pragmatic</text>
<text x="541" y="1357" textLength="65" lengthAdjust="spacingAndGlyphs">Systematic</text>
<text x="685" y="1306" textLength="50.3" lengthAdjust="spacingAndGlyphs">Abstract</text>
<text x="685" y="1332" textLength="57.7" lengthAdjust="spacingAndGlyphs">Affiliative</text>
<text x="685" y="1357" textLength="45.7" lengthAdjust="spacingAndGlyphs">Interest</text>
</g>

<g fill="#D1D3D4">
<rect x="186" y="1380" width="131.5" height="92"/>
<rect x="331" y="1380" width="131.5" height="92"/>
<rect x="475" y="1380" width="131.5" height="92"/>
<rect x="619" y="1380" width="131.5" height="92"/>
</g>
<g class="it i16">
<text x="252" y="1401" textLength="107.7" lengthAdjust="spacingAndGlyphs">Safety, Past-Focused,</text>
<text x="252" y="1422" textLength="62.7" lengthAdjust="spacingAndGlyphs">“Should Do”,</text>
<text x="252" y="1443" textLength="123.3" lengthAdjust="spacingAndGlyphs">Story Telling, Long-Term</text>
<text x="252" y="1464" textLength="100.7" lengthAdjust="spacingAndGlyphs">Memory Experience</text>
<text x="397" y="1401" textLength="72.3" lengthAdjust="spacingAndGlyphs">Test the Rules,</text>
<text x="397" y="1422" textLength="75" lengthAdjust="spacingAndGlyphs">Test Traditions,</text>
<text x="397" y="1443" textLength="100.3" lengthAdjust="spacingAndGlyphs">Live in the Moment,</text>
<text x="397" y="1464" textLength="106.7" lengthAdjust="spacingAndGlyphs">Mechanical Aptitude</text>
<text x="541" y="1401" textLength="81.7" lengthAdjust="spacingAndGlyphs">Future Thinkers,</text>
<text x="541" y="1422" textLength="122.7" lengthAdjust="spacingAndGlyphs">Systems &amp; Probabilities,</text>
<text x="541" y="1443" textLength="90" lengthAdjust="spacingAndGlyphs">Live in a World of</text>
<text x="541" y="1464" textLength="50" lengthAdjust="spacingAndGlyphs">“What If”</text>
<text x="685" y="1401" textLength="114" lengthAdjust="spacingAndGlyphs">Philosophical, Endless</text>
<text x="685" y="1422" textLength="96" lengthAdjust="spacingAndGlyphs">Social Possibilities,</text>
<text x="685" y="1443" textLength="80.7" lengthAdjust="spacingAndGlyphs">Future Focused,</text>
<text x="685" y="1464" textLength="116.7" lengthAdjust="spacingAndGlyphs">Searching for the Ideal</text>
</g>

<rect x="186" y="1485" width="131.5" height="33" fill="#EE4123"/>
<rect x="331" y="1485" width="131.5" height="33" fill="#F15A29"/>
<rect x="475" y="1485" width="131.5" height="33" fill="#F37021"/>
<rect x="619" y="1485" width="131.5" height="33" fill="#F7941D"/>
<text class="tb" x="252" y="1507.7" textLength="115" lengthAdjust="spacingAndGlyphs">SJ Temperament</text>
<text class="tb" x="397" y="1507.7" textLength="117.7" lengthAdjust="spacingAndGlyphs">SP Temperament</text>
<text class="tb" x="541" y="1507.7" textLength="120" lengthAdjust="spacingAndGlyphs">NT Temperament</text>
<text class="tb" x="685" y="1507.7" textLength="119.3" lengthAdjust="spacingAndGlyphs">NF Temperament</text>

<rect x="22" y="1262" width="131" height="52.5" fill="#EE4123"/>
<text x="88" y="1285" font-size="22" font-weight="bold" fill="#fff" text-anchor="middle" textLength="113.3" lengthAdjust="spacingAndGlyphs">The Four Sides</text>
<text x="88" y="1306.5" font-size="22" font-weight="bold" fill="#fff" text-anchor="middle" textLength="93.7" lengthAdjust="spacingAndGlyphs">Of The Mind</text>
<polygon points="22,1314.5 153,1314.5 88,1334" fill="#D1D3D4"/>
<rect x="22" y="1340" width="131" height="132" fill="#EE4123"/>
<g fill="#fff">
<rect x="26" y="1344" width="60" height="59.7"/>
<rect x="90" y="1344" width="59.7" height="59.7"/>
<rect x="26" y="1407.7" width="60" height="60"/>
<rect x="90" y="1407.7" width="59.7" height="60"/>
</g>
<g class="it" font-size="15">
<text x="55" y="1380" textLength="18.7" lengthAdjust="spacingAndGlyphs">Ego</text>
<text x="120" y="1380" textLength="58.3" lengthAdjust="spacingAndGlyphs">Subconscious</text>
<text x="56" y="1445" textLength="58.3" lengthAdjust="spacingAndGlyphs">Unconscious</text>
<text x="120" y="1445" textLength="49" lengthAdjust="spacingAndGlyphs">Superego</text>
</g>
<rect x="22" y="1485" width="131" height="33" fill="#E6E7E8"/>
<polygon points="153,1485 173,1501.5 153,1518" fill="#D1D3D4"/>
<text x="88" y="1508.3" font-size="19" font-weight="bold" font-style="italic" fill="#EE4123" text-anchor="middle" textLength="123.3" lengthAdjust="spacingAndGlyphs">Temperament Styles</text>

<polygon points="783,1281 849,1262 915,1281" fill="#D1D3D4"/>
<rect x="783" y="1281" width="132" height="86" fill="#E6E7E8"/>
<polygon points="783,1281 764,1324 783,1367" fill="#C7C8CA"/>
<text x="849" y="1310" font-size="20" font-weight="bold" fill="#EE4123" text-anchor="middle" textLength="63.7" lengthAdjust="spacingAndGlyphs">Primary</text>
<text x="849" y="1331.7" font-size="20" font-weight="bold" fill="#EE4123" text-anchor="middle" textLength="21" lengthAdjust="spacingAndGlyphs">vs.</text>
<text x="849" y="1353.3" font-size="20" font-weight="bold" fill="#EE4123" text-anchor="middle" textLength="83" lengthAdjust="spacingAndGlyphs">Secondary</text>
<rect x="783" y="1380" width="132" height="92" fill="#F1F2F2"/>
<polygon points="783,1380 764,1426 783,1472" fill="#E6E7E8"/>
<text x="849" y="1432.7" font-size="20" font-weight="bold" font-style="italic" fill="#111" text-anchor="middle" textLength="83.3" lengthAdjust="spacingAndGlyphs">Definitions</text>
<g font-size="5" fill="#333">
<text x="764" y="1492" textLength="148" lengthAdjust="spacingAndGlyphs">Contributing Source: Personality Type and Temperament information on this poster</text>
<text x="764" y="1497.5" textLength="150" lengthAdjust="spacingAndGlyphs">by People Centered by Stephen Montgomery, PhD. Understanding Yourself and Others</text>
<text x="764" y="1503" textLength="146" lengthAdjust="spacingAndGlyphs">by Linda Berens and Dario Nardi, Please Understand Me II by David Keirsey type</text>
<text x="764" y="1508.5" textLength="148" lengthAdjust="spacingAndGlyphs">indicator and Interaction Styles, Myers Briggs and Keirsey, temperament theory chart</text>
<text x="764" y="1514" textLength="150" lengthAdjust="spacingAndGlyphs">www.personalitytype.com interaction styles and temperament, the four sides of the mind</text>
</g>

<!-- ================= RIGHT TEXT ================= -->
<text x="1048" y="798" font-size="27" font-weight="bold" fill="#000">masculinity</text>
<text class="big" x="1048" y="831">============</text>
<text class="big" x="1048" y="864">ESTP - Se Ti Fe Ni</text>
<text class="big" x="1048" y="895.8">ENTJ - Te Ni Se Fi</text>
<text class="big" x="1048" y="927.6">ISTP - Ti Se Ni Fe</text>
<text class="big" x="1048" y="959.4">INTJ - Ni Te Fi Se</text>
<text class="big" x="1048" y="1023.3">ESFP - Se Fi Te Ni</text>
<text class="big" x="1048" y="1055.1">ENFJ - Fe Ni Se Ti</text>
<text class="big" x="1048" y="1086.9">ISFP - Fi Se Ni Te</text>
<text class="big" x="1048" y="1118.7">INFJ - Ni Fe Ti Se</text>
<text class="big" x="1048" y="1183.3">ENFP - Ne Fi Te Si</text>
<text class="big" x="1048" y="1215">ESTJ - Te Si Ne Fi</text>
<text class="big" x="1048" y="1246.8">INFP - Fi Ne Si Te</text>
<text class="big" x="1048" y="1278.6">ISTJ - Si Te Fi Ne</text>
<text class="big" x="1048" y="1343.3">ENTP - Ne Ti Fe Si</text>
<text class="big" x="1048" y="1375">ESFJ - Fe Si Ne Ti</text>
<text class="big" x="1048" y="1406.8">INTP - Ti Ne Si Fe</text>
<text class="big" x="1048" y="1438.6">ISFJ -  Si Fe Ti Ne</text>
<text class="big" x="1048" y="1469">============</text>
<text x="1048" y="1501" font-size="27" font-weight="bold" fill="#000">femininity</text>
</svg>
</body></html>
